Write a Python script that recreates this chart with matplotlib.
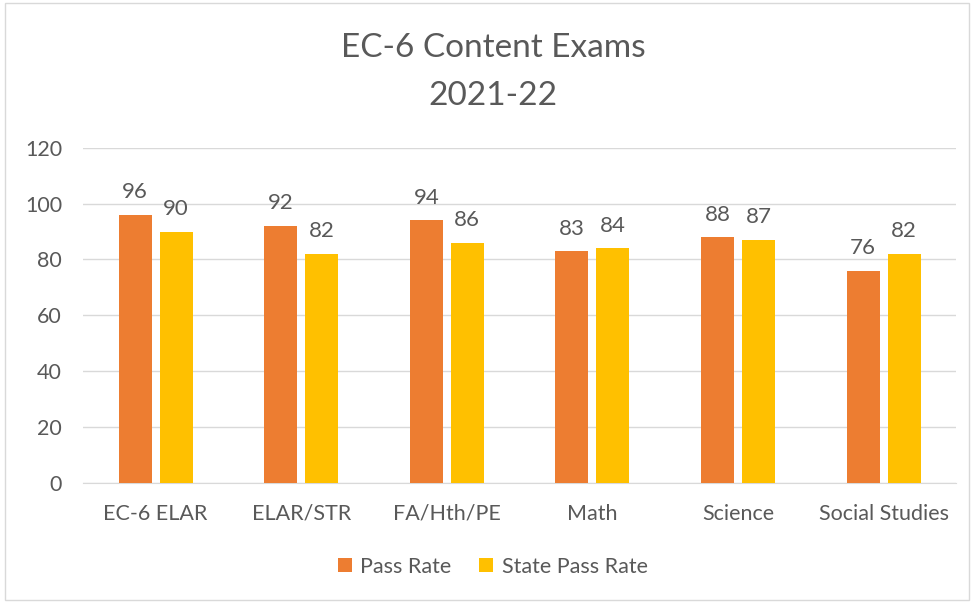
import numpy as np
import matplotlib
matplotlib.use("Agg")
import matplotlib.pyplot as plt
from matplotlib.patches import Rectangle

plt.rcParams['font.family'] = ['Lato', 'DejaVu Sans']

categories = ["EC-6 ELAR", "ELAR/STR", "FA/Hth/PE", "Math", "Science", "Social Studies"]
pass_rate = [96, 92, 94, 83, 88, 76]
state_pass_rate = [90, 82, 86, 84, 87, 82]

text_col = "#595959"
orange = "#ED7D31"
yellow = "#FFC000"

fig = plt.figure(figsize=(9.74, 6.03), dpi=100)
ax = fig.add_axes([0.085, 0.199, 0.897, 0.556])

x = np.arange(len(categories))
w = 0.227
gap = 0.055
b1 = ax.bar(x - (w + gap) / 2, pass_rate, w, color=orange, label="Pass Rate", zorder=3)
b2 = ax.bar(x + (w + gap) / 2, state_pass_rate, w, color=yellow, label="State Pass Rate", zorder=3)

for bars in (b1, b2):
    ax.bar_label(bars, padding=9, fontsize=16, color=text_col)

ax.set_ylim(0, 120)
ax.set_yticks(range(0, 121, 20))
ax.set_xlim(-0.5, len(categories) - 0.5)
ax.set_xticks(x)
ax.set_xticklabels(categories)
ax.tick_params(axis="both", length=0, labelsize=15.5, colors=text_col)
ax.tick_params(axis="x", pad=15)
ax.tick_params(axis="y", pad=15)
ax.grid(axis="y", color="#D9D9D9", linewidth=1, zorder=0)
for s in ("top", "right", "left"):
    ax.spines[s].set_visible(False)
ax.spines["bottom"].set_color("#D9D9D9")

fig.text(0.506, 0.920, "EC-6 Content Exams", ha="center", va="center", fontsize=24, color=text_col)
fig.text(0.506, 0.840, "2021-22", ha="center", va="center", fontsize=24, color=text_col)

fig.legend(handles=[b1, b2], loc="center", bbox_to_anchor=(0.506, 0.060), ncol=2,
           frameon=False, fontsize=15.5, labelcolor=text_col, handlelength=0.65,
           handleheight=0.65, columnspacing=1.3, handletextpad=0.4)

fig.patches.append(Rectangle((0.005, 0.005), 0.99, 0.99, transform=fig.transFigure,
                             fill=False, edgecolor="#D9D9D9", linewidth=1))

fig.savefig("out.png", dpi=100)
